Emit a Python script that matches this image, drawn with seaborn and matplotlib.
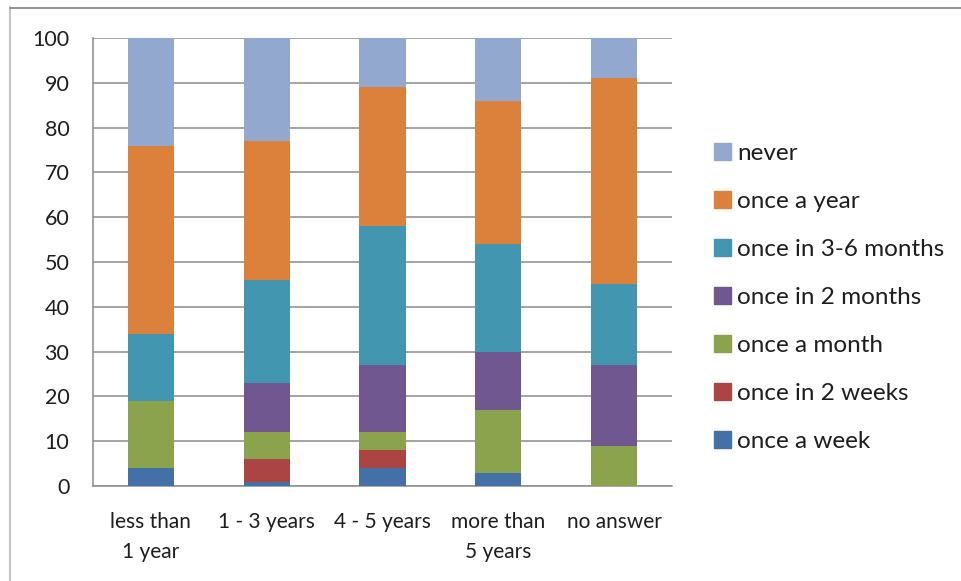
import numpy as np
import pandas as pd
import seaborn as sns
from matplotlib import pyplot as plt
from matplotlib.lines import Line2D
from matplotlib.ticker import FixedLocator

periods = ["less than\n1 year", "1 - 3 years", "4 - 5 years", "more than\n5 years", "no answer"]

# share per answer, bottom (once a week) to top (never)
once_a_week = [4, 1, 4, 3, 0]
once_in_2_weeks = [0, 5, 4, 0, 0]
once_a_month = [15, 6, 4, 14, 9]
once_in_2_months = [0, 11, 15, 13, 18]
once_in_3_6_months = [15, 23, 31, 24, 18]
once_a_year = [42, 31, 31, 32, 46]
never = [24, 23, 11, 14, 9]

levels = ["once a week", "once in 2 weeks", "once a month", "once in 2 months",
          "once in 3-6 months", "once a year", "never"]
series = [once_a_week, once_in_2_weeks, once_a_month, once_in_2_months,
          once_in_3_6_months, once_a_year, never]
colors = ["#4470A8", "#AA4543", "#8BA34C", "#70578F", "#4296AF", "#DB813B", "#93A8CF"]

cum = np.cumsum(np.array(series), axis=0)
rows = []
for lev, vals in zip(levels, cum):
    for p, v in zip(periods, vals):
        rows.append({"period": p, "freq": lev, "cum": v})
df = pd.DataFrame(rows)

sns.set_style("white")
plt.rcParams['font.family'] = ['Lato', 'DejaVu Sans']
text_col = "#1e1e1e"
line_col = "#8c8c8c"

fig = plt.figure(figsize=(9.62, 5.81), dpi=100)
ax = fig.add_axes([93 / 962, 1 - 486 / 581, (672 - 93) / 962, (486 - 38) / 581])

hue_order = levels[::-1]
palette = dict(zip(levels, colors))
sns.barplot(data=df, x="period", y="cum", hue="freq", hue_order=hue_order,
            order=periods, palette=palette, dodge=False, width=0.4,
            errorbar=None, saturation=1, linewidth=0, ax=ax, zorder=3)

ax.set_xlim(-0.5, 4.5)
ax.set_ylim(0, 100)
ax.set_yticks(range(0, 101, 10))
ax.yaxis.grid(True, color=line_col, linewidth=1.1, zorder=0)
ax.set_axisbelow(True)
ax.set_xlabel("")
ax.set_ylabel("")

for s in ["top", "right"]:
    ax.spines[s].set_visible(False)
for s in ["left", "bottom"]:
    ax.spines[s].set_color(line_col)
    ax.spines[s].set_linewidth(1.1)

ax.xaxis.set_minor_locator(FixedLocator(np.arange(-0.5, 5, 1)))
ax.tick_params(axis="x", which="major", length=0, pad=19, labelsize=15, labelcolor=text_col)
ax.tick_params(axis="x", which="minor", length=6.5, width=1.1, color=line_col, direction="out")
ax.tick_params(axis="y", length=7, width=1.1, color=line_col, direction="out",
               labelsize=15.5, labelcolor=text_col, pad=10)
for lab in ax.get_xticklabels():
    lab.set_linespacing(1.6)

ax.get_legend().remove()
handles = [plt.Rectangle((0, 0), 1, 1, color=palette[l]) for l in hue_order]
fig.legend(handles, hue_order, loc="upper left", bbox_to_anchor=(692 / 962, 1 - 121 / 581),
           frameon=False, fontsize=17.5, labelcolor=text_col, handlelength=0.7,
           handleheight=0.7, handletextpad=0.25, labelspacing=1.11)

# outer chart frame
fig.add_artist(Line2D([10 / 962, 10 / 962], [0, 1 - 7 / 581], color="#c4c4c4", lw=1.5))
fig.add_artist(Line2D([10 / 962, 1], [1 - 7.5 / 581, 1 - 7.5 / 581], color="#8a8a8a", lw=1.3))

plt.savefig("out.png", dpi=100)
